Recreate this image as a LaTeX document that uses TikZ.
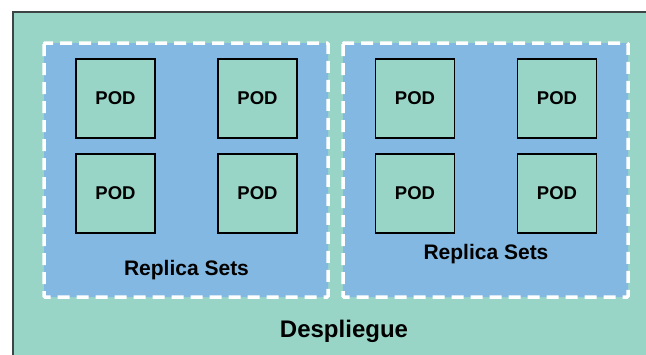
\documentclass[tikz,border=0pt]{standalone}
\usepackage{fontspec}
\setmainfont{Liberation Sans}
\definecolor{teal1}{RGB}{152,213,199}
\definecolor{blue1}{RGB}{131,184,226}
\definecolor{edge1}{RGB}{60,68,68}
\begin{document}
\begin{tikzpicture}[x=1pt,y=-1pt,
  podbox/.style={draw=black,line width=1.2pt,fill=teal1,minimum width=79pt,minimum height=79pt,inner sep=0pt,font=\fontsize{18.5}{18.5}\selectfont\bfseries},
  rsbox/.style={fill=blue1,draw=white,line width=3.5pt,dash pattern=on 12pt off 7pt,rounded corners=1pt},
  lbl/.style={font=\fontsize{21}{21}\selectfont\bfseries,inner sep=0pt},
  biglbl/.style={font=\fontsize{24}{24}\selectfont\bfseries,inner sep=0pt}]
\useasboundingbox (0,0) rectangle (646,354);
\clip (0,0) rectangle (646,354);
\fill[white] (0,0) rectangle (646,354);
\draw[fill=teal1,draw=edge1,line width=2pt] (13,12) rectangle (680,380);
\path[rsbox] (44,43) rectangle (328,297);
\path[rsbox] (343,43) rectangle (628,297);
\node[podbox] (p1) at (115.5,98.5) {POD};
\node[podbox] (p2) at (257.5,98.5) {POD};
\node[podbox] (p3) at (115.5,193.5) {POD};
\node[podbox] (p4) at (257.5,193.5) {POD};
\node[podbox] (p5) at (415,98.5) {POD};
\node[podbox] (p6) at (557,98.5) {POD};
\node[podbox] (p7) at (415,193.5) {POD};
\node[podbox] (p8) at (557,193.5) {POD};
\node[lbl] (rs1) at (186.5,270) {Replica Sets};
\node[lbl] (rs2) at (486,254) {Replica Sets};
\node[biglbl] (dep) at (344,331) {Despliegue};
\end{tikzpicture}
\end{document}
